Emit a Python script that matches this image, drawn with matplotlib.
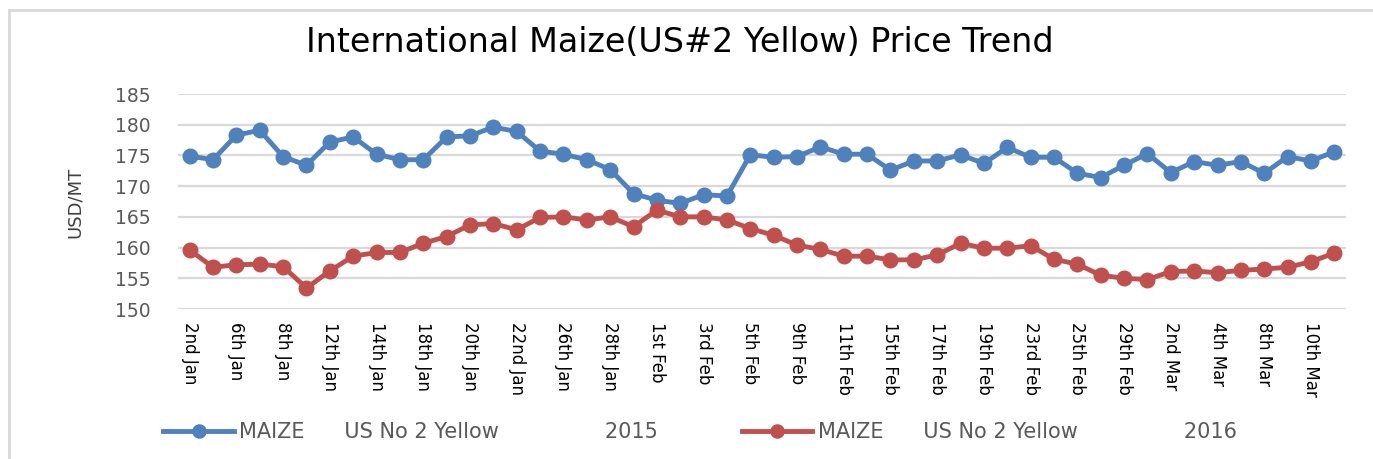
import matplotlib
matplotlib.use("Agg")
import matplotlib.pyplot as plt
from matplotlib.lines import Line2D

dates = ["2nd Jan", "5th Jan", "6th Jan", "7th Jan", "8th Jan", "11th Jan", "12th Jan", "13th Jan",
         "14th Jan", "15th Jan", "18th Jan", "19th Jan", "20th Jan", "21st Jan", "22nd Jan", "25th Jan",
         "26th Jan", "27th Jan", "28th Jan", "29th Jan", "1st Feb", "2nd Feb", "3rd Feb", "4th Feb",
         "5th Feb", "8th Feb", "9th Feb", "10th Feb", "11th Feb", "12th Feb", "15th Feb", "16th Feb",
         "17th Feb", "18th Feb", "19th Feb", "22nd Feb", "23rd Feb", "24th Feb", "25th Feb", "26th Feb",
         "29th Feb", "1st Mar", "2nd Mar", "3rd Mar", "4th Mar", "7th Mar", "8th Mar", "9th Mar",
         "10th Mar", "11th Mar"]

price_2015 = [174.9, 174.3, 178.3, 179.1, 174.8, 173.4, 177.2, 178.0, 175.2, 174.3,
              174.3, 178.0, 178.2, 179.6, 178.9, 175.7, 175.2, 174.3, 172.7, 168.8,
              167.7, 167.2, 168.6, 168.4, 175.1, 174.7, 174.8, 176.4, 175.2, 175.2,
              172.6, 174.1, 174.1, 175.1, 173.7, 176.3, 174.7, 174.7, 172.1, 171.4,
              173.4, 175.3, 172.2, 174.0, 173.4, 174.0, 172.1, 174.8, 174.1, 175.6]

price_2016 = [159.6, 156.8, 157.2, 157.3, 156.9, 153.4, 156.2, 158.6, 159.2, 159.2,
              160.7, 161.8, 163.7, 163.9, 162.9, 164.9, 165.0, 164.5, 165.0, 163.4,
              166.1, 165.0, 165.0, 164.5, 163.1, 162.0, 160.4, 159.7, 158.6, 158.6,
              158.0, 158.0, 158.8, 160.7, 159.9, 159.9, 160.3, 158.1, 157.3, 155.5,
              155.0, 154.8, 156.1, 156.2, 155.9, 156.3, 156.5, 156.8, 157.7, 159.1]

series_labels = ["MAIZE" + " " * 6 + "US No 2 Yellow" + " " * 16 + "2015",
                 "MAIZE" + " " * 6 + "US No 2 Yellow" + " " * 16 + "2016"]
title = "International Maize(US#2 Yellow) Price Trend"
y_label = "USD/MT"
y_ticks = [150, 155, 160, 165, 170, 175, 180, 185]

W, H = 1373, 459
fig = plt.figure(figsize=(W / 100, H / 100), dpi=100)
ax = fig.add_axes([178 / W, 1 - 309 / H, (1346 - 178) / W, (309 - 94) / H])

blue = "#4F81BD"
red = "#C0504D"
x = list(range(len(dates)))
ax.plot(x, price_2015, color=blue, lw=3.5, marker="o", ms=10.5, label=series_labels[0], zorder=3)
ax.plot(x, price_2016, color=red, lw=3.5, marker="o", ms=10.5, label=series_labels[1], zorder=3)

ax.set_xlim(-0.5, len(dates) - 0.5)
ax.set_ylim(150, 185)
ax.set_yticks(y_ticks)
ax.set_yticklabels([str(v) for v in y_ticks], fontsize=13.5, color="#595959")
ax.set_xticks(x[::2])
ax.set_xticklabels(dates[::2], rotation=-90, fontsize=12, color="black", va="top", ha="center")
ax.tick_params(axis="both", length=0)
ax.tick_params(axis="y", pad=20)
ax.tick_params(axis="x", pad=9)
for s in ax.spines.values():
    s.set_visible(False)
ax.grid(axis="y", color="#D9D9D9", lw=1.6, zorder=0)
ax.set_axisbelow(True)

fig.text(75 / W, 1 - 202 / H, y_label, rotation=90, fontsize=13, color="#404040",
         ha="center", va="center")
fig.text(680 / W, 1 - 42 / H, title, fontsize=24, color="black", ha="center", va="center")

fig.legend(loc="center", bbox_to_anchor=(700 / W, 1 - 432 / H), ncol=2, frameon=False,
           fontsize=15, labelcolor="#595959", handlelength=3.4, handletextpad=0.25,
           columnspacing=4.0, markerscale=0.9)

# outer chart border
fig.add_artist(Line2D([9 / W, 1], [1 - 10 / H, 1 - 10 / H], color="#D9D9D9", lw=2))
fig.add_artist(Line2D([9 / W, 9 / W], [0, 1 - 10 / H], color="#D9D9D9", lw=2))

fig.savefig("out.png", dpi=100)
